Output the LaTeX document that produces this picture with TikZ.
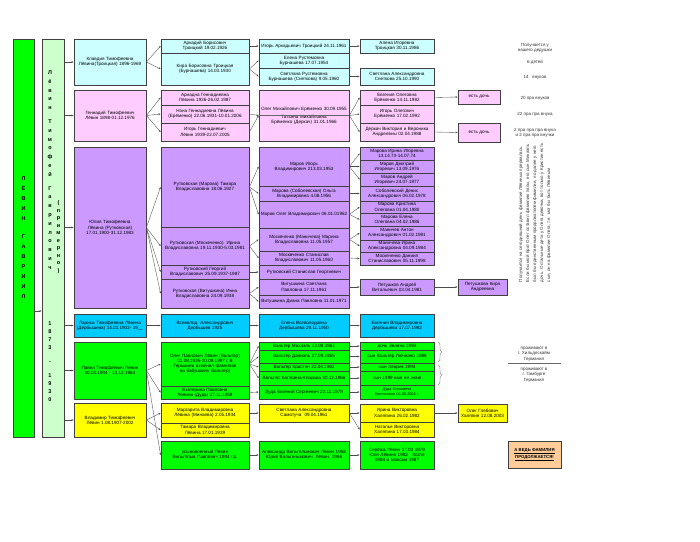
\documentclass[tikz,border=0pt]{standalone}
\usepackage{fontspec}
\setmainfont{Liberation Sans}
\usetikzlibrary{arrows.meta}

\definecolor{lcyan}{HTML}{CCFFFF}
\definecolor{lpink}{HTML}{FFCCFF}
\definecolor{lviol}{HTML}{CC99FF}
\definecolor{scyan}{HTML}{00CCFF}
\definecolor{sgreen}{HTML}{00FF00}
\definecolor{syell}{HTML}{FFFF00}
\definecolor{lgreen}{HTML}{CCFFCC}
\definecolor{lorange}{HTML}{FFCC99}

\tikzset{
  box/.style={draw=black!75,line width=0.8pt,inner sep=0.5pt,align=center,
    font=\fontsize{4.6}{5.2}\selectfont},
  link/.style={-{Stealth[length=2.2pt,width=1.8pt]},black!70,line width=0.35pt},
  note/.style={align=center,font=\fontsize{4.5}{5.6}\selectfont,text=black!80}
}
% \bx{name}{x1}{y1}{x2}{y2}{fill}{text}
\newcommand{\bx}[7]{\node[box,fill=#6,minimum width={(#4)-(#2)},minimum height={(#5)-(#3)},
  text width={(#4)-(#2)-3}] (#1) at ({((#2)+(#4))/2},{((#3)+(#5))/2}) {#7};}

\begin{document}
\begin{tikzpicture}[x=1pt,y=-1pt]
\useasboundingbox[fill=white] (0,0) rectangle (700,541);

% ancestors
\node[box,fill=sgreen,minimum width=21,minimum height=398,font=\fontsize{5.5}{10}\selectfont\bfseries] (gavr) at (23.5,238)
  {Л\\Ё\\В\\И\\Н\\[8pt]Г\\А\\В\\Р\\И\\И\\Л};
\node[box,fill=lgreen,minimum width=22,minimum height=398] (tim) at (53,238) {};
\node[font=\fontsize{5.5}{8.8}\selectfont\bfseries,align=center] (timname) at (50,170)
  {Л\\ё\\в\\и\\н\\[5pt]Т\\и\\м\\о\\ф\\е\\й\\[5pt]Г\\а\\в\\р\\и\\л\\о\\в\\и\\ч};
\node[font=\fontsize{5.5}{7.5}\selectfont\bfseries,align=center] (approx) at (58.5,237)
  {(\\п\\р\\и\\м\\е\\р\\н\\о\\)};
\node[font=\fontsize{5.5}{8}\selectfont\bfseries,align=center] (years) at (50,362)
  {1\\8\\7\\3\\[6pt]-\\[6pt]1\\9\\3\\0};

% children
\bx{klav}{74}{39}{146}{85}{lcyan}{Клавдия Тимофеевна Лёвина(Троицкая) 1896-1969}
\bx{genn}{74}{90}{146}{141}{lpink}{Геннадий Тимофеевич Лёвин 1898-01.12.1976}
\bx{yul}{74}{147}{146}{308}{lviol}{Юлия Тимофеевна Лёвина (Рутковская) 17.01.1900-31.12.1983}
\bx{lar}{74}{314}{146}{337}{scyan}{Лариса Тимофеевна Лёвина (Дербышева) 14.03.1902- 19\_\_}
\bx{pav}{74}{342}{146}{399}{sgreen}{Павел Тимофеевич Лёвин 30.04.1904 - 13.12.1964}
\bx{vlad}{74}{403}{146}{437}{syell}{Владимир Тимофеевич Лёвин 1.08.1907-2002}

% grandchildren
\bx{ark}{161}{39}{249}{53}{lcyan}{Аркадий Борисович Троицкий 19.02.1926}
\bx{kira}{161}{53}{249}{85}{lcyan}{Кира Борисовна Троицкая (Бурнашева) 14.03.1930}
\bx{ari}{161}{90}{249}{105}{lpink}{Ариадна Геннадиевна Лёвина 1926-26.02.1987}
\bx{nena}{161}{105}{249}{123}{lpink}{Нэна Геннадиевна Лёвина (Ерёменко) 22.06.1931-10.01.2006}
\bx{igg}{161}{123}{249}{141}{lpink}{Игорь Геннадиевич Лёвин 1939-22.07.2005}
\bx{tam}{161}{147}{249}{227}{lviol}{Рутковская (Марова) Тамара Владиславовна 18.06.1927}
\bx{irin}{161}{227}{249}{265}{lviol}{Рутковская (Москвченко)\ \ Ирина Владиславовна 19.11.1930-5.03.1981}
\bx{geor}{161}{265}{249}{279}{lviol}{Рутковский Георгий Владиславович 25.09.1937-1987}
\bx{inna}{161}{279}{249}{308}{lviol}{Рутковская (Витушкина) Инна Владиславовна 24.09.1938}
\bx{vsev}{161}{314}{249}{337}{scyan}{Всеволод\ \ Александрович Дербышев 1925}
\bx{olp}{161}{342}{249}{386}{sgreen}{Олег Павлович Лёвин (Вальтер) 01.08.1935-10.09.1997 ( В Германии изменил фамилию на бабушкину Вальтер)}
\bx{ekat}{161}{386}{249}{399}{sgreen}{Екатерина Павловна Лёвина (Дуда) 27.11.1959}
\bx{marg}{161}{403}{249}{423}{syell}{Маргарита Владимировна Лёвина (Минаева) 2.05.1934}
\bx{tamv}{161}{423}{249}{437}{syell}{Тамара Владимировна Лёвина 17.01.1939}
\bx{usyn}{161}{441}{249}{469}{sgreen}{усыновленный Лёвин Вильгельм Павлович 1934 г.р.}

% great-grandchildren
\bx{igar}{259}{39}{349}{53}{lcyan}{Игорь Аркадьевич Троицкий 24.11.1961}
\bx{elr}{259}{53}{349}{68}{lcyan}{Елена Рустемовна Бурнашева 17.07.1954}
\bx{svr}{259}{68}{349}{85}{lcyan}{Светлана Рустемовна Бурнашева (Снеткова) 9.05.1960}
\bx{oleg}{259}{90}{349}{141}{lpink}{Олег Михайлович Ерёменко 30.09.1955\\[3pt] Татьяна Михайловна Ерёменко (Деркач) 31.01.1966}
\draw[black!60,line width=0.4pt] (oleg.west |- 0,115.5) -- (oleg.east |- 0,115.5);
\bx{marig}{259}{147}{349}{186}{lviol}{Маров Игорь Владимирович 213.03.1953}
\bx{marol}{259}{186}{349}{201}{lviol}{Марова (Соболевская) Ольга Владимировна 4.08.1956}
\bx{marolg}{259}{201}{349}{228}{lviol}{Маров Олег Владимирович 06.01.01962}
\bx{mosm}{259}{228}{349}{251}{lviol}{Москвченко (Маничева) Марина Владиславовна 11.05.1957}
\bx{moss}{259}{251}{349}{265}{lviol}{Москвченко Станислав Владиславович 11.05.1960}
\bx{rutst}{259}{265}{349}{279}{lviol}{Рутковский Станислав Георгиевич}
\bx{vitsv}{259}{279}{349}{295}{lviol}{Витушкина Светлана Павловна 17.11.1961}
\bx{vitd}{259}{295}{349}{308}{lviol}{Витушкина Диана Павловна 11.01.1971}
\bx{elv}{259}{314}{349}{337}{scyan}{Елена Всеволодовна Дербышева 29.11.1950}
\bx{wm}{259}{342}{349}{350}{sgreen}{Вальтер Михаэль 12.09.1961}
\bx{wd}{259}{350}{349}{363}{sgreen}{Вальтер Даниэль 27.09.1965}
\bx{wk}{259}{363}{349}{371}{sgreen}{Вальтер Кристин 22.04.1963}
\bx{wkat}{259}{371}{349}{385}{sgreen}{Вальтер Катерина-Клаудиа 30.12.1966}
\bx{duda}{259}{385}{349}{399}{sgreen}{Дуда Евгений Сергеевич 22.11.1979}
\bx{svs}{259}{404}{349}{422}{syell}{Светлана Александровна Самотуча\ \ 09.04.1961}
\bx{alex}{259}{441}{349}{469}{sgreen}{\raggedright Александр Вильгельмович Лёвин 1958 \hfill Юрий Вильгельмович\ \ Лёвин\ \ 1966}

% next generation
\bx{alena}{360}{39}{434}{53}{lcyan}{Алена Игоревна Троицкая 30.11.1986}
\bx{sva}{360}{68}{434}{85}{lcyan}{Светлана Александровна Снеткова 25.10.1990}
\bx{evg}{360}{90}{434}{105}{lpink}{Евгения Олеговна Ерёменко 14.11.1982}
\bx{igo}{360}{105}{434}{123}{lpink}{Игорь Олегович Ерёменко 17.02.1992}
\bx{derk}{360}{123}{434}{141}{lpink}{Деркач Виктория и Вероника Андреевны 02.04.1988}
\bx{mi}{360}{147}{434}{160}{lviol}{Марова Ирина Игоревна 13.14.73-14.07.74}
\bx{md}{360}{160}{434}{173}{lviol}{Маров Дмитрий Игоревич 13.09.1976}
\bx{ma}{360}{173}{434}{186}{lviol}{Маров Андрей Игоревич 24.07.1977}
\bx{sob}{360}{186}{434}{201}{lviol}{Соболевский Денис Александрович 06.02.1978}
\bx{mk}{360}{201}{434}{213}{lviol}{Марова Кристина Олеговна 01.04.1980}
\bx{me}{360}{213}{434}{226}{lviol}{Марова Елена Олеговна 04.02.1986}
\bx{ant}{360}{226}{434}{240}{lviol}{Маничев Антон Александрович 01.02.1981}
\bx{mir}{360}{240}{434}{252}{lviol}{Маничева Ирина Александровна 04.09.1984}
\bx{dan}{360}{252}{434}{265}{lviol}{Москвченко Даниил Станиславович 05.11.1998}
\bx{pet}{360}{279}{434}{295}{lviol}{Петушков Андрей Витальевич 03.04.1981}
\bx{evv}{360}{314}{434}{337}{scyan}{Евгения Владимировна Дербышева 17.07.1982}
\bx{zel}{360}{342}{434}{350}{sgreen}{дочь Зелина 1994}
\bx{luc}{360}{350}{434}{363}{sgreen}{сын Вальтер Лючиано 1986}
\bx{hen}{360}{363}{434}{371}{sgreen}{сын Хенрик 1994}
\bx{s99}{360}{371}{434}{385}{sgreen}{сын 1999 имя не знаю}
\bx{dudae}{360}{385}{434}{399}{sgreen}{{\fontsize{3.8}{4.4}\selectfont Дуда Елизавета Евгеньевна 01.08.2006 г.}}
\bx{irv}{360}{404}{434}{422}{syell}{Ирина Викторовна Халяпина 26.02.1982}
\bx{nat}{360}{422}{434}{437}{syell}{Наталья Викторовна Халяпина 17.03.1984}
\bx{ser}{360}{441}{434}{469}{sgreen}{Серёжа Лёвин 17.03 1979\ \ Юля Лёвина 1982\ \ \ Костя 1984 и Максим 1987}

% last boxes
\bx{d1}{458}{90}{500}{104}{lpink}{есть дочь}
\bx{d2}{458}{123}{500}{142}{lpink}{есть дочь}
\bx{kira5}{458}{279}{507}{295}{lviol}{Петушкова Кира Андреевна}
\bx{olg}{458}{404}{507}{422}{syell}{Олег Глебович Халяпин 12.08.2003}
\node[box,fill=lorange,minimum width=53,minimum height=27,font=\fontsize{4.3}{7}\selectfont\bfseries] (cont) at (534.5,454.5)
  {\underline{А ВЕДЬ ФАМИЛИЯ}\\\underline{ПРОДОЛЖАЕТСЯ!}};

% notes
\node[note] (n1) at (535,48) {Получается у\\нашего дедушки};
\node[note] (n2) at (535,62) {6 детей};
\node[note] (n3) at (535,77) {14\ \ \ внуков};
\node[note] (n4) at (535,98) {20 пра внуков};
\node[note] (n5) at (535,114) {22 пра пра внука};
\node[note] (n6) at (535,133) {2 пра пра пра внука\\и 2 пра пра внучки};
\node[note,rotate=90,text width=140,align=left,font=\fontsize{4.4}{7}\selectfont] (n7) at (535,212)
  {Получается на сегодняшний день фамилия Лёвиных прервалась. Если бы мой брат Олег оставил фамилию папы, его сын Михаэль был бы единственным продолжателем фамилии, но далее у него дочь. Остальные дети у Олега девочки, вот только у Кристин есть сын, он на фамилии Олега, т.е. мог бы быть Лёвиным};
\node[note] (n8) at (534,354) {проживают в\\г. Хильдескайм\\Германия};
\node[note] (n9) at (534,375) {проживают в\\г. Гамбурге\\Германия};
\draw[black!60,line width=0.6pt] (508,363.5) -- (561,363.5);
\draw[black!50,line width=0.4pt] (438,342) to[out=0,in=180] (442,352) (438,362) to[out=0,in=180] (442,352);
\draw[black!50,line width=0.4pt] (438,365) to[out=0,in=180] (442,375) (438,385) to[out=0,in=180] (442,375);

% links
\draw[link] (gavr.east |- 0,311) -- (tim.west |- 0,311);
\foreach \c in {klav,genn,yul,lar,pav,vlad}
  \draw[link] (tim.east |- \c.west) -- (\c.west);
\foreach \a/\b in {klav/ark,klav/kira,ark/igar,kira/elr,kira/svr,igar/alena,svr/sva,
    genn/ari,genn/nena,genn/igg,nena/oleg,igg/oleg,oleg/evg,oleg/igo,oleg/derk,evg/d1,derk/d2,
    yul/tam,yul/irin,yul/geor,yul/inna,tam/marig,tam/marol,tam/marolg,irin/mosm,irin/moss,
    geor/rutst,inna/vitsv,inna/vitd,marig/mi,marig/md,marig/ma,marol/sob,marolg/mk,marolg/me,
    mosm/ant,mosm/mir,moss/dan,vitsv/pet,pet/kira5,lar/vsev,vsev/elv,elv/evv,
    pav/olp,pav/ekat,pav/usyn,olp/wm,olp/wd,olp/wk,olp/wkat,ekat/duda,
    wm/zel,wd/luc,wk/hen,wkat/s99,duda/dudae,vlad/marg,vlad/tamv,marg/svs,
    svs/irv,svs/nat,irv/olg,usyn/alex,alex/ser}
  \draw[link] (\a.east) -- (\b.west);
\end{tikzpicture}
\end{document}
